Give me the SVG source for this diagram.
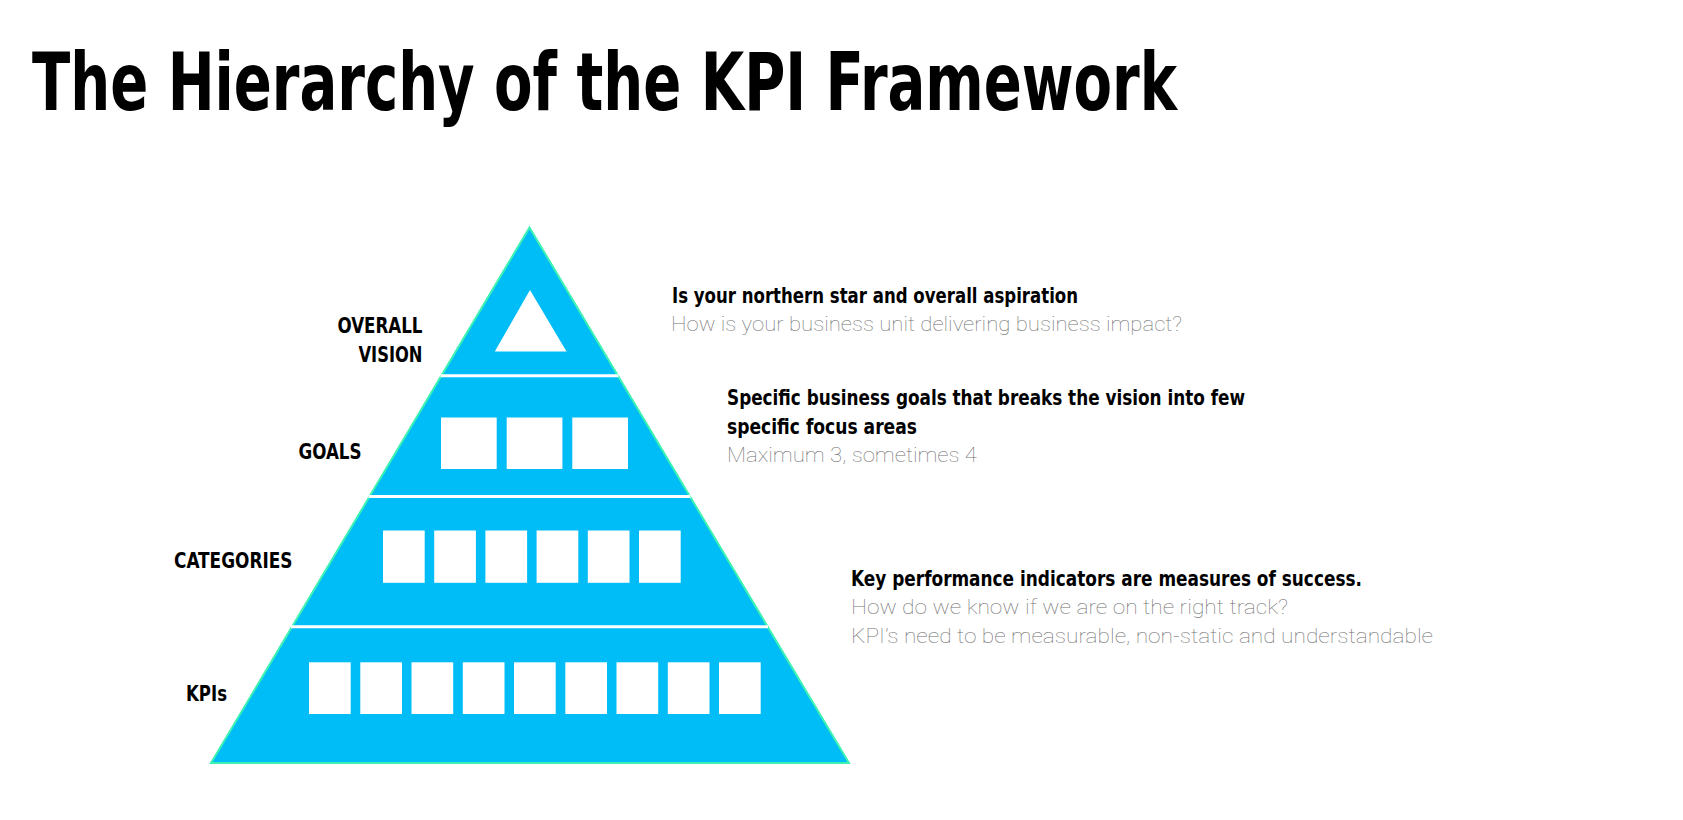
<svg xmlns="http://www.w3.org/2000/svg" width="1683" height="820" viewBox="0 0 1683 820">
<style>
.bold{font-family:"Liberation Sans Narrow","DejaVu Sans Condensed","Liberation Sans",sans-serif;font-weight:bold;font-stretch:condensed;fill:#000}
.title{font-size:81px}
.lbl{font-size:22px}
.desc{font-size:21.5px}
.light{font-family:"Roboto","Lato","Inter","Liberation Sans",sans-serif;font-weight:100;font-size:21px;fill:#6f6f6f}
.band{fill:#01BDF7}
.edge{fill:none;stroke:#3CF2B2;stroke-width:2}
.sep{stroke:#fff;stroke-width:3}
.box{fill:#fff}
</style>
<rect width="1683" height="820" fill="#fff"/>
<g id="title">
<text class="bold title" x="32" y="109.5" textLength="1145" lengthAdjust="spacingAndGlyphs">The Hierarchy of the KPI Framework</text>
</g>
<g id="pyramid">
<polygon class="band" points="529.5,227.5 849,763 211,763"/>
<polygon class="edge" points="529.5,227.5 849,763 211,763"/>
<line class="sep" x1="440.5" y1="375.7" x2="618.5" y2="375.7"/>
<line class="sep" x1="368.5" y1="496.5" x2="690.5" y2="496.5"/>
<line class="sep" x1="291" y1="626.7" x2="768" y2="626.7"/>
</g>
<g id="level-vision">
<polygon class="box" points="530,290 566.5,351.5 494.8,351.5"/>
<text class="bold lbl" x="337.5" y="333" textLength="85" lengthAdjust="spacingAndGlyphs">OVERALL</text>
<text class="bold lbl" x="358.5" y="362" textLength="64" lengthAdjust="spacingAndGlyphs">VISION</text>
</g>
<g id="level-goals">
<rect class="box" x="441" y="417.5" width="55.7" height="51.5"/>
<rect class="box" x="506.7" y="417.5" width="55.7" height="51.5"/>
<rect class="box" x="572.3" y="417.5" width="55.7" height="51.5"/>
<text class="bold lbl" x="298.5" y="458.5" textLength="63" lengthAdjust="spacingAndGlyphs">GOALS</text>
</g>
<g id="level-categories">
<rect class="box" x="383" y="530.5" width="41.7" height="52.3"/>
<rect class="box" x="434.2" y="530.5" width="41.7" height="52.3"/>
<rect class="box" x="485.4" y="530.5" width="41.7" height="52.3"/>
<rect class="box" x="536.6" y="530.5" width="41.7" height="52.3"/>
<rect class="box" x="587.8" y="530.5" width="41.7" height="52.3"/>
<rect class="box" x="639" y="530.5" width="41.7" height="52.3"/>
<text class="bold lbl" x="174" y="567.5" textLength="118.5" lengthAdjust="spacingAndGlyphs">CATEGORIES</text>
</g>
<g id="level-kpis">
<rect class="box" x="309" y="662.3" width="41.7" height="51.7"/>
<rect class="box" x="360.3" y="662.3" width="41.7" height="51.7"/>
<rect class="box" x="411.5" y="662.3" width="41.7" height="51.7"/>
<rect class="box" x="462.8" y="662.3" width="41.7" height="51.7"/>
<rect class="box" x="514" y="662.3" width="41.7" height="51.7"/>
<rect class="box" x="565.3" y="662.3" width="41.7" height="51.7"/>
<rect class="box" x="616.5" y="662.3" width="41.7" height="51.7"/>
<rect class="box" x="667.8" y="662.3" width="41.7" height="51.7"/>
<rect class="box" x="719" y="662.3" width="41.7" height="51.7"/>
<text class="bold lbl" x="186" y="700.5" textLength="41" lengthAdjust="spacingAndGlyphs">KPIs</text>
</g>
<g id="desc-vision">
<text class="bold desc" x="672" y="302.5" textLength="406" lengthAdjust="spacingAndGlyphs">Is your northern star and overall aspiration</text>
<text class="light" x="671" y="331" textLength="511" lengthAdjust="spacingAndGlyphs">How is your business unit delivering business impact?</text>
</g>
<g id="desc-goals">
<text class="bold desc" x="727" y="405" textLength="518" lengthAdjust="spacingAndGlyphs">Specific business goals that breaks the vision into few</text>
<text class="bold desc" x="727" y="433.5" textLength="190" lengthAdjust="spacingAndGlyphs">specific focus areas</text>
<text class="light" x="727" y="462" textLength="250" lengthAdjust="spacingAndGlyphs">Maximum 3, sometimes 4</text>
</g>
<g id="desc-kpis">
<text class="bold desc" x="851" y="585.5" textLength="511" lengthAdjust="spacingAndGlyphs">Key performance indicators are measures of success.</text>
<text class="light" x="851" y="614" textLength="437" lengthAdjust="spacingAndGlyphs">How do we know if we are on the right track?</text>
<text class="light" x="851" y="643" textLength="582" lengthAdjust="spacingAndGlyphs">KPI’s need to be measurable, non-static and understandable</text>
</g>
</svg>
